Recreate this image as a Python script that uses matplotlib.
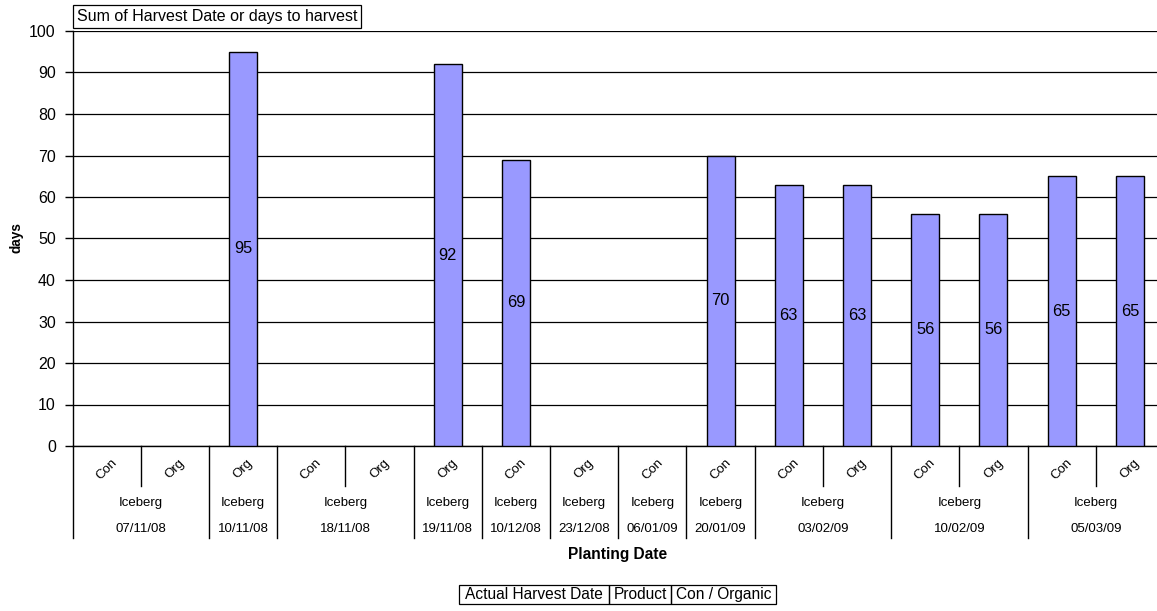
import matplotlib
matplotlib.use("Agg")
import matplotlib.pyplot as plt
from matplotlib.patches import Rectangle
from matplotlib.lines import Line2D

plt.rcParams.update({"font.family": ["Liberation Sans", "DejaVu Sans"]})

# pivot rows: planting date -> product -> con/organic
dates = ["07/11/08", "10/11/08", "18/11/08", "19/11/08", "10/12/08", "23/12/08",
         "06/01/09", "20/01/09", "03/02/09", "10/02/09", "05/03/09"]
products = ["Iceberg"] * len(dates)
types = [["Con", "Org"], ["Org"], ["Con", "Org"], ["Org"], ["Con"], ["Org"],
         ["Con"], ["Con"], ["Con", "Org"], ["Con", "Org"], ["Con", "Org"]]
days = [0, 0, 95, 0, 0, 92, 69, 0, 0, 70, 63, 63, 56, 56, 65, 65]

W, H = 1157, 611
fig = plt.figure(figsize=(W / 100, H / 100), dpi=100)
L, R, T, B = 72.5, 1164, 31, 446   # plot area runs past the right edge
ax = fig.add_axes([L / W, 1 - B / H, (R - L) / W, (B - T) / H])

n = len(days)
x = list(range(n))
shown = [(xi, v) for xi, v in zip(x, days) if v]
ax.bar([p[0] for p in shown], [p[1] for p in shown], width=0.41, color="#9999FF",
       edgecolor="black", linewidth=1, zorder=3)
for xi, v in shown:
    ax.text(xi, v / 2, str(v), ha="center", va="center", fontsize=11.8, zorder=4)

ax.set_xlim(-0.5, n - 0.5)
ax.set_ylim(0, 100)
ax.set_yticks(range(0, 101, 10))
ax.tick_params(axis="y", labelsize=11.5, length=6, width=1, direction="out", pad=6)
ax.set_xticks([])
ax.yaxis.grid(True, color="black", linewidth=0.9, zorder=1)
for s in ["top", "right"]:
    ax.spines[s].set_visible(False)
ax.spines["left"].set_linewidth(1)
ax.spines["bottom"].set_linewidth(1)
fig.text(17 / W, 1 - 238 / H, "days", rotation=90, ha="center", va="center",
         fontsize=9.8, fontweight="bold")

# multi-level category axis
px = lambda p: (B - p) / (B - T)   # pixel row -> axes fraction
tr = ax.get_xaxis_transform()
pos = 0
edges = [-0.5]
for d, prod, ts in zip(dates, products, types):
    start = pos
    for k, t in enumerate(ts):
        ax.text(pos, px(469), t, rotation=45, ha="center", va="center",
                fontsize=9.5, transform=tr, clip_on=False)
        if k > 0:
            ax.add_line(Line2D([pos - 0.5] * 2, [0, px(486)], color="black", lw=1,
                               transform=tr, clip_on=False))
        pos += 1
    mid = (start + pos - 1) / 2
    ax.text(mid, px(503), prod, ha="center", va="center", fontsize=9.5,
            transform=tr, clip_on=False)
    ax.text(mid, px(529), d, ha="center", va="center", fontsize=9.5,
            transform=tr, clip_on=False)
    edges.append(pos - 0.5)
for e in edges:
    ax.add_line(Line2D([e, e], [0, px(538)], color="black", lw=1,
                       transform=tr, clip_on=False))

fig.text(618 / W, 1 - 554 / H, "Planting Date", ha="center", va="center",
         fontsize=11.2, fontweight="bold")

# field buttons
def button(x0, x1, y0, y1, label, fs):
    fig.add_artist(Rectangle((x0 / W, 1 - y1 / H), (x1 - x0) / W, (y1 - y0) / H,
                             transform=fig.transFigure, fill=False,
                             edgecolor="black", linewidth=0.9))
    fig.text((x0 + x1) / 2 / W, 1 - (y0 + y1) / 2 / H, label, ha="center",
             va="center", fontsize=fs)

button(73, 361, 5, 28, "Sum of Harvest Date or days to harvest", 11.5)
button(459, 609, 585, 604, "Actual Harvest Date", 11.2)
button(609, 671, 585, 604, "Product", 11.2)
button(671, 776, 585, 604, "Con / Organic", 11.2)

fig.savefig("out.png", dpi=100)
